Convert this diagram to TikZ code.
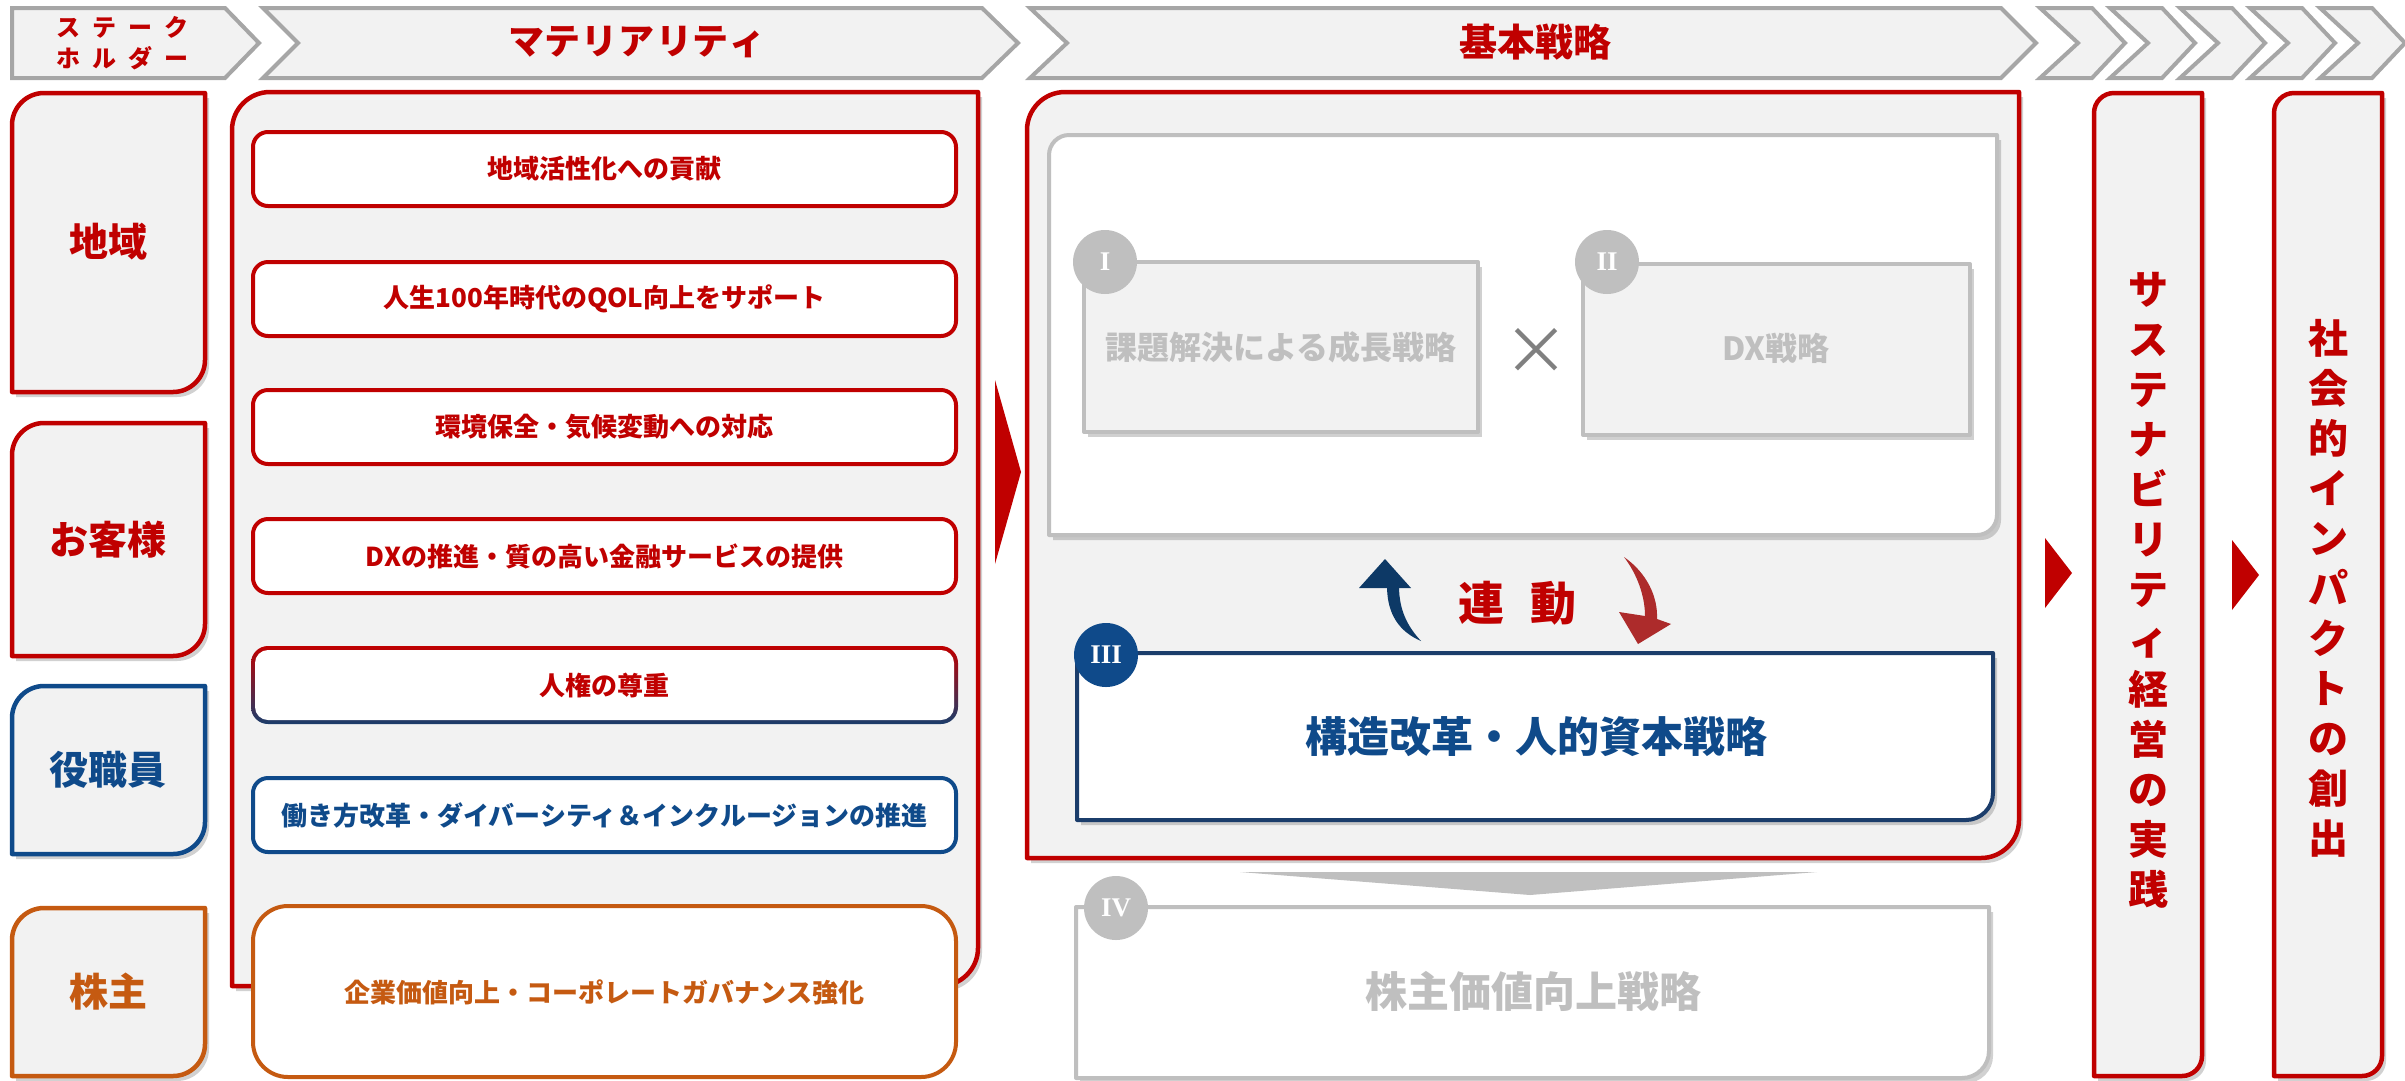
\documentclass[tikz,border=0pt]{standalone}
\usepackage{fontspec}
\setmainfont{Noto Sans CJK JP}
\newfontfamily\romanfont{Liberation Serif}
\usetikzlibrary{shadows}
\definecolor{cred}{HTML}{C00000}
\definecolor{cblue}{HTML}{0F4A8A}
\definecolor{cnavy}{HTML}{1B3D6B}
\definecolor{corange}{HTML}{C55A11}
\definecolor{cfill}{HTML}{F2F2F2}
\definecolor{cchev}{HTML}{A6A6A6}
\definecolor{clgray}{HTML}{BFBFBF}
\definecolor{cxgray}{HTML}{808080}
\definecolor{carrowblue}{HTML}{0D3966}
\definecolor{carrowred}{HTML}{AD2B2B}
\newcommand\myfs[1]{\fontsize{#1pt}{#1pt}\selectfont}
\newcommand\myfsl[2]{\fontsize{#1pt}{#2pt}\selectfont}
\begin{document}
\begin{tikzpicture}[x=1pt,y=-1pt,line join=round,
  chev/.style={fill=cfill,draw=cchev,line width=4pt,line join=miter},
  shad/.style={drop shadow={shadow xshift=4pt,shadow yshift=-5pt,opacity=0.3,fill=black!60}},
  lbl/.style={inner sep=0pt,font=\bfseries},
  tlbr/.style n args={5}{insert path={({#1},{#4}) -- ({#1},{#2+#5}) .. controls ({#1},{#2+0.45*#5}) and ({#1+0.45*#5},{#2}) .. ({#1+#5},{#2}) -- ({#3},{#2}) -- ({#3},{#4-#5}) .. controls ({#3},{#4-0.45*#5}) and ({#3-0.45*#5},{#4}) .. ({#3-#5},{#4}) -- cycle}},
  brr/.style n args={5}{insert path={({#1},{#2}) -- ({#3},{#2}) -- ({#3},{#4-#5}) .. controls ({#3},{#4-0.45*#5}) and ({#3-0.45*#5},{#4}) .. ({#3-#5},{#4}) -- ({#1},{#4}) -- cycle}},
  skbox/.style={fill=cfill,line width=4.5pt,shad},
  item/.style={fill=white,line width=4pt,rounded corners=15pt},
  badge/.style={circle,minimum size=64pt,inner sep=0pt,text=white,font=\romanfont\bfseries\myfs{27}},
]
\useasboundingbox (0,0) rectangle (2405,1080);

% ---------- header chevrons ----------
\draw[chev] (12,8) -- (225,8) -- (259,43) -- (225,78) -- (12,78) -- cycle;
\node[lbl,text=cred,font=\bfseries\myfs{24}] (hsk1) at (122,27) {ス\hspace{12pt}テ\hspace{12pt}ー\hspace{12pt}ク};
\node[lbl,text=cred,font=\bfseries\myfs{24}] (hsk2) at (122,58) {ホ\hspace{12pt}ル\hspace{12pt}ダ\hspace{12pt}ー};
\draw[chev] (263,8) -- (982,8) -- (1018,43) -- (982,78) -- (263,78) -- (298,43) -- cycle;
\node[lbl,text=cred,font=\bfseries\myfs{36}] (hmat) at (637,42) {マ\hspace{1pt}テ\hspace{1pt}リ\hspace{1pt}ア\hspace{1pt}リ\hspace{1pt}テ\hspace{1pt}ィ};
\draw[chev] (1030,8) -- (2001,8) -- (2036,43) -- (2001,78) -- (1030,78) -- (1067,43) -- cycle;
\node[lbl,text=cred,font=\bfseries\myfs{38}] (hstr) at (1535,42) {基本戦略};
\foreach \k in {0,...,4}{
  \draw[chev] ({2040+70*\k},8) -- ({2092+70*\k},8) -- ({2125+70*\k},43) -- ({2092+70*\k},78) -- ({2040+70*\k},78) -- ({2078+70*\k},43) -- cycle;
}

% ---------- stakeholders ----------
\path[skbox,draw=cred,tlbr={12}{93}{205}{392}{32}];
\node[lbl,text=cred,font=\bfseries\myfs{39}] (skchiiki) at (108,242) {地域};
\path[skbox,draw=cred,tlbr={12}{423}{205}{656}{32}];
\node[lbl,text=cred,font=\bfseries\myfs{39}] (skkyaku) at (108,540) {お客様};
\path[skbox,draw=cblue,tlbr={12}{686}{205}{854}{32}];
\node[lbl,text=cblue,font=\bfseries\myfs{39}] (skshoku) at (108,770) {役職員};
\path[skbox,draw=corange,tlbr={12}{908}{205}{1076}{32}];
\node[lbl,text=corange,font=\bfseries\myfs{39}] (skkabu) at (108,992) {株主};

% ---------- materiality ----------
\path[skbox,draw=cred,tlbr={232}{92}{978}{986}{38}];
\draw[item,draw=cred] (253,132) rectangle (956,206);
\node[lbl,text=cred,font=\bfseries\myfs{26}] (m1) at (604.5,169) {地域活性化への貢献};
\draw[item,draw=cred] (253,262) rectangle (956,336);
\node[lbl,text=cred,font=\bfseries\myfs{26}] (m2) at (604.5,299) {人生100年時代のQOL向上をサポート};
\draw[item,draw=cred] (253,390) rectangle (956,464);
\node[lbl,text=cred,font=\bfseries\myfs{26}] (m3) at (604.5,427) {環境保全・気候変動への対応};
\draw[item,draw=cred] (253,519) rectangle (956,593);
\node[lbl,text=cred,font=\bfseries\myfs{26}] (m4) at (604.5,556) {DXの推進・質の高い金融サービスの提供};
\shade[rounded corners=17pt,top color=cred,middle color=cred,bottom color=cnavy] (251,646) rectangle (958,724);
\fill[white,rounded corners=13pt] (255,650) rectangle (954,720);
\node[lbl,text=cred,font=\bfseries\myfs{26}] (m5) at (604.5,685) {人権の尊重};
\draw[item,draw=cblue] (253,778) rectangle (956,852);
\node[lbl,text=cblue,font=\bfseries\myfs{26}] (m6) at (604.5,815) {働き方改革・ダイバーシティ＆インクルージョンの推進};
\draw[item,draw=corange,rounded corners=35pt] (253,906) rectangle (956,1077);
\node[lbl,text=corange,font=\bfseries\myfs{26}] (m7) at (604.5,992) {企業価値向上・コーポレートガバナンス強化};

\fill[cred] (995,380) -- (1021,472) -- (995,564) -- cycle;

% ---------- strategy ----------
\path[skbox,draw=cred,tlbr={1027}{92}{2019}{858}{38}];
\path[fill=white,draw=clgray,line width=4pt,shad,tlbr={1049}{135}{1997}{535}{20}];
\draw[fill=cfill,draw=clgray,line width=4pt,shad] (1084,262) rectangle (1478,432);
\node[badge,fill=clgray] (b1) at (1105,262) {I};
\node[lbl,text=clgray,font=\bfseries\myfs{32}] (s1) at (1281,347) {課題解決による成長戦略};
\node[lbl,text=cxgray,font=\myfs{66}] (times) at (1536,351) {×};
\draw[fill=cfill,draw=clgray,line width=4pt,shad] (1583,264) rectangle (1970,435);
\node[badge,fill=clgray] (b2) at (1607,262) {II};
\node[lbl,text=clgray,font=\bfseries\myfs{32}] (s2) at (1776,348) {DX戦略};

% linkage arrows
\fill[carrowblue] (1359,588) -- (1385,559) -- (1411,588) -- cycle;
\fill[carrowblue] (1387,586) .. controls (1387,615) and (1400,632) .. (1421,641) .. controls (1409,628) and (1399,612) .. (1399,586) -- cycle;
\fill[carrowred] (1624,557) .. controls (1647,573) and (1658,597) .. (1657,619) -- (1671,624) -- (1638,644) -- (1619,612) -- (1645,616) .. controls (1645,596) and (1637,574) .. (1624,557) -- cycle;
\node[lbl,text=cred,font=\bfseries\myfs{46}] (rendo) at (1517,603) {連\hspace{26pt}動};

\path[fill=white,draw=cnavy,line width=4pt,shad,brr={1077}{653}{1993}{820}{27}];
\node[badge,fill=cblue] (b3) at (1106,655) {III};
\node[lbl,text=cblue,font=\bfseries\myfs{42}] (s3) at (1536,737) {構造改革・人的資本戦略};

\fill[clgray] (1240,872) -- (1817,872) -- (1530,895) -- cycle;
\path[fill=white,draw=clgray,line width=4pt,shad,brr={1076}{907}{1989}{1078}{27}];
\node[badge,fill=clgray] (b4) at (1116,908) {IV};
\node[lbl,text=clgray,font=\bfseries\myfs{42}] (s4) at (1533,991) {株主価値向上戦略};

% ---------- right columns ----------
\fill[cred] (2045,538) -- (2072,573) -- (2045,608) -- cycle;
\path[skbox,draw=cred,tlbr={2094}{93}{2202}{1076}{20}];
\node[lbl,text=cred,align=center,font=\bfseries\myfsl{40}{50}] (sus) at (2148,590) {サ\\ス\\テ\\ナ\\ビ\\リ\\テ\\ィ\\経\\営\\の\\実\\践};
\fill[cred] (2232,540) -- (2259,575) -- (2232,610) -- cycle;
\path[skbox,draw=cred,tlbr={2274}{93}{2382}{1076}{20}];
\node[lbl,text=cred,align=center,font=\bfseries\myfsl{40}{50}] (imp) at (2328,588) {社\\会\\的\\イ\\ン\\パ\\ク\\ト\\の\\創\\出};
\end{tikzpicture}
\end{document}
